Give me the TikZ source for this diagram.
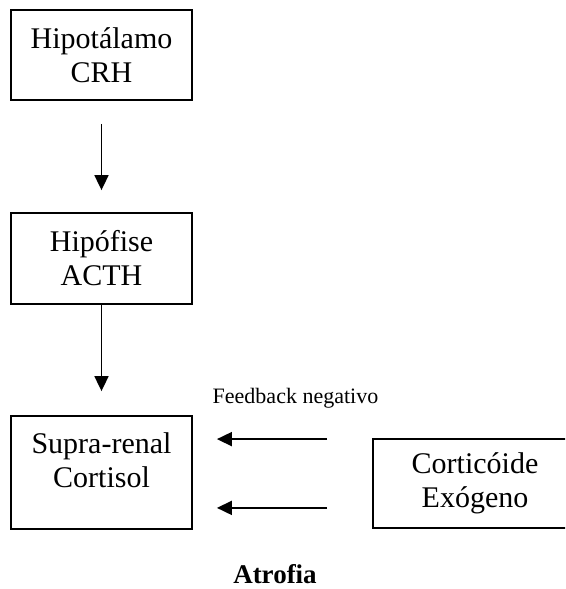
\documentclass[tikz,border=0pt]{standalone}
\usepackage{fontspec}
\setmainfont{Liberation Serif}
\usetikzlibrary{arrows.meta}

\tikzset{
    caixa/.style={draw, rectangle, line width=1.8pt, inner sep=0pt, minimum width=181pt},
    rotulo/.style={align=center, font=\fontsize{30}{34}\selectfont},
    seta/.style={-{Triangle[length=15pt,width=14pt]}, line width=1.8pt},
}

\begin{document}
\begin{tikzpicture}[x=1pt,y=-1pt]

    \clip (0,0) rectangle (565,589);

    % eixo
    \node[caixa, rotulo, minimum height=90pt] (hipo) at (101.5,55) {Hipotálamo\\CRH};
    \node[caixa, rotulo, minimum height=91pt] (hipof) at (101.5,258.5) {Hipófise\\ACTH};
    \node[caixa, minimum height=113pt] (supra) at (101.5,472.5) {};
    \node[rotulo] (supratxt) at (101.5,460) {Supra-renal\\Cortisol};
    \node[caixa, rotulo, minimum width=204pt, minimum height=89pt] (cortico) at (475,483.5) {Corticóide\\Exógeno};

    \node[font=\fontsize{22}{26}\selectfont, anchor=base] (feedback) at (295.5,403) {Feedback negativo};
    \node[font=\bfseries\fontsize{27}{30}\selectfont, anchor=base] (atrofia) at (275,583) {Atrofia};

    \coordinate (fb1) at ([yshift=-24pt]supra.north east);
    \coordinate (fb2) at ([yshift=22pt]supra.south east);

    \draw[seta, shorten <=23pt, shorten >=22pt] (hipo) -- (hipof);
    \draw[seta, shorten >=24pt] (hipof) -- (supra);
    \draw[seta, shorten <=45pt, shorten >=24pt] (cortico.west |- fb1) -- (fb1);
    \draw[seta, shorten <=45pt, shorten >=24pt] (cortico.west |- fb2) -- (fb2);

\end{tikzpicture}
\end{document}
